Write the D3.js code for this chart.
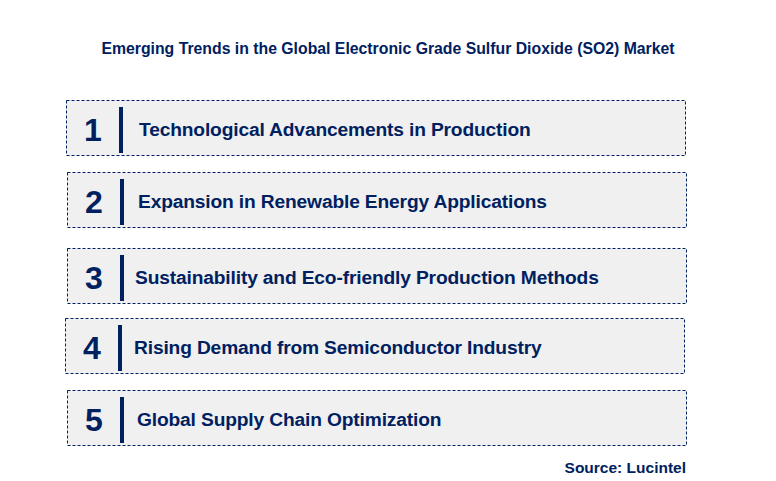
<!DOCTYPE html><html><head><script src="https://cdn.jsdelivr.net/npm/d3@7"></script>
<style>body{margin:0;background:#fff}</style></head><body><script>
const title="Emerging Trends in the Global Electronic Grade Sulfur Dioxide (SO2) Market";
const numbers=["1","2","3","4","5"];
const trends=["Technological Advancements in Production","Expansion in Renewable Energy Applications","Sustainability and Eco-friendly Production Methods","Rising Demand from Semiconductor Industry","Global Supply Chain Optimization"];
const boxTops=[100,172,248,318,390];
const boxLefts=[66,67,67,65,67];
const textOffsets=[73,71,68,69,70];
const source="Source: Lucintel";
const navy="#002060", F="'Liberation Sans',Arial,sans-serif";
const svg=d3.select("body").append("svg").attr("width",776).attr("height",481);
svg.append("text").attr("x",388).attr("y",54).attr("text-anchor","middle").attr("font-family",F).attr("font-weight","bold").attr("font-size",15.8).attr("fill",navy).text(title);
const g=svg.selectAll("g.b").data(trends).join("g").attr("transform",(d,i)=>`translate(${boxLefts[i]},${boxTops[i]})`);
g.append("rect").attr("x",0.5).attr("y",0.5).attr("width",619).attr("height",55).attr("fill","#f0f0f0").attr("stroke",navy).attr("stroke-width",1).attr("stroke-dasharray","3,2");
g.append("text").attr("x",27).attr("y",41).attr("text-anchor","middle").attr("font-family",F).attr("font-weight","bold").attr("font-size",32).attr("fill",navy).text((d,i)=>numbers[i]);
g.append("rect").attr("x",53).attr("y",7).attr("width",4).attr("height",46).attr("fill",navy);
g.append("text").attr("x",(d,i)=>textOffsets[i]).attr("y",36).attr("font-family",F).attr("font-weight","bold").attr("font-size",19.2).attr("fill",navy).attr("letter-spacing",-0.15).text(d=>d);
svg.append("text").attr("x",686).attr("y",473).attr("text-anchor","end").attr("font-family",F).attr("font-weight","bold").attr("font-size",15.5).attr("fill",navy).text(source);
</script></body></html>
